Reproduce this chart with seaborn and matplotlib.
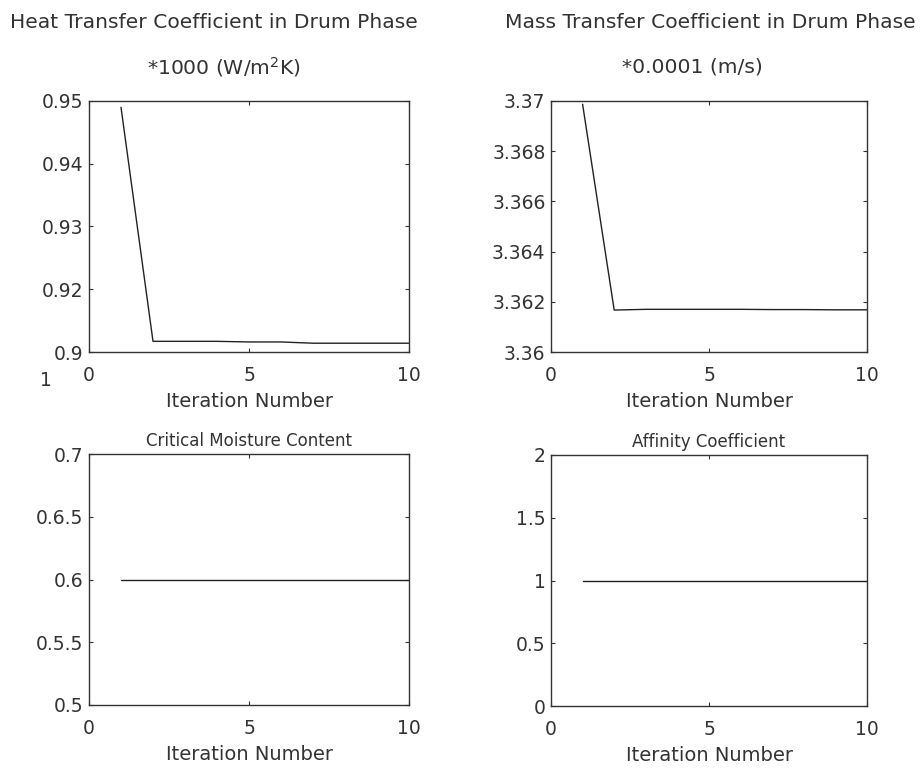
import matplotlib
matplotlib.use("Agg")
import matplotlib.pyplot as plt
import seaborn as sns
import pandas as pd

# iteration data
iterations = [1, 2, 3, 4, 5, 6, 7, 8, 9, 10]
heat_coef = [0.9490, 0.9117, 0.9117, 0.9117, 0.9116, 0.9116, 0.9114, 0.9114, 0.9114, 0.9114]
mass_coef = [3.36987, 3.36167, 3.36170, 3.36170, 3.36170, 3.36170, 3.36169, 3.36169, 3.36168, 3.36168]
moisture = [0.6, 0.6, 0.6, 0.6, 0.6, 0.6, 0.6, 0.6, 0.6, 0.6]
affinity = [1, 1, 1, 1, 1, 1, 1, 1, 1, 1]

# the bottom label of the first panel is "0.91", printed in the scan with its "1" dropped below
heat_ticks = [0.91, 0.92, 0.93, 0.94, 0.95]
heat_labels = ["0.9", "0.92", "0.93", "0.94", "0.95"]
mass_ticks = [3.36, 3.362, 3.364, 3.366, 3.368, 3.37]
mass_labels = ["3.36", "3.362", "3.364", "3.366", "3.368", "3.37"]
moist_ticks = [0.5, 0.55, 0.6, 0.65, 0.7]
moist_labels = ["0.5", "0.5.5", "0.6", "0.6.5", "0.7"]
aff_ticks = [0, 0.5, 1, 1.5, 2]
aff_labels = ["0", "0.5", "1", "1.5", "2"]
x_ticks = [0, 5, 10]

sns.set_theme(style="ticks")
plt.rcParams["font.family"] = ["DejaVu Sans"]

INK = "#333333"
FS = 13.5       # tick labels
FS_LBL = 14     # x labels
FS_TOP = 14.6   # figure-top titles
FS_SUB = 12     # lower panel titles

fig = plt.figure(figsize=(9.22, 7.71), dpi=100)
W, H = 922, 771

def box(l, t, r, b):
    return [l / W, 1 - b / H, (r - l) / W, (b - t) / H]

panels = [
    (box(89, 101, 409, 352), heat_coef, (0.91, 0.95), heat_ticks, heat_labels),
    (box(551, 101, 867, 352), mass_coef, (3.36, 3.37), mass_ticks, mass_labels),
    (box(89, 454, 409, 705), moisture, (0.5, 0.7), moist_ticks, moist_labels),
    (box(551, 455, 867, 706), affinity, (0, 2), aff_ticks, aff_labels),
]

axes = []
for rect, vals, ylim, yt, yl in panels:
    ax = fig.add_axes(rect)
    df = pd.DataFrame({"it": iterations, "v": vals})
    sns.lineplot(data=df, x="it", y="v", ax=ax, color="#222222", linewidth=1.0)
    ax.set_xlim(0, 10)
    ax.set_ylim(*ylim)
    ax.set_xticks(x_ticks)
    ax.set_xticklabels([str(t) for t in x_ticks])
    ax.set_yticks(yt)
    ax.set_yticklabels(yl)
    ax.set_ylabel("")
    ax.set_xlabel("Iteration Number", fontsize=FS_LBL, color=INK, labelpad=5)
    ax.tick_params(direction="in", length=3, width=0.8, colors=INK,
                   labelsize=FS, top=True, right=True)
    ax.tick_params(axis="x", pad=10)
    ax.tick_params(axis="y", pad=4)
    for s in ax.spines.values():
        s.set_visible(True)
        s.set_color(INK)
        s.set_linewidth(1.0)
    axes.append(ax)

# titles
fig.text(214 / W, 1 - 22 / H, "Heat Transfer Coefficient in Drum Phase",
         ha="center", va="center", fontsize=FS_TOP, color=INK)
fig.text(224 / W, 1 - 67 / H, r"*1000 (W/m$^2$K)",
         ha="center", va="center", fontsize=FS_TOP, color=INK)
fig.text(710 / W, 1 - 22 / H, "Mass Transfer Coefficient in Drum Phase",
         ha="center", va="center", fontsize=FS_TOP, color=INK)
fig.text(692 / W, 1 - 67 / H, "*0.0001 (m/s)",
         ha="center", va="center", fontsize=FS_TOP, color=INK)
axes[2].set_title("Critical Moisture Content", fontsize=FS_SUB, color=INK, pad=6)
axes[3].set_title("Affinity Coefficient", fontsize=FS_SUB, color=INK, pad=6)

# the wrapped "1" of the 0.91 label
fig.text(46 / W, 1 - 381 / H, "1", ha="center", va="center", fontsize=FS, color=INK)

fig.savefig("out.png", dpi=100, facecolor="white")
